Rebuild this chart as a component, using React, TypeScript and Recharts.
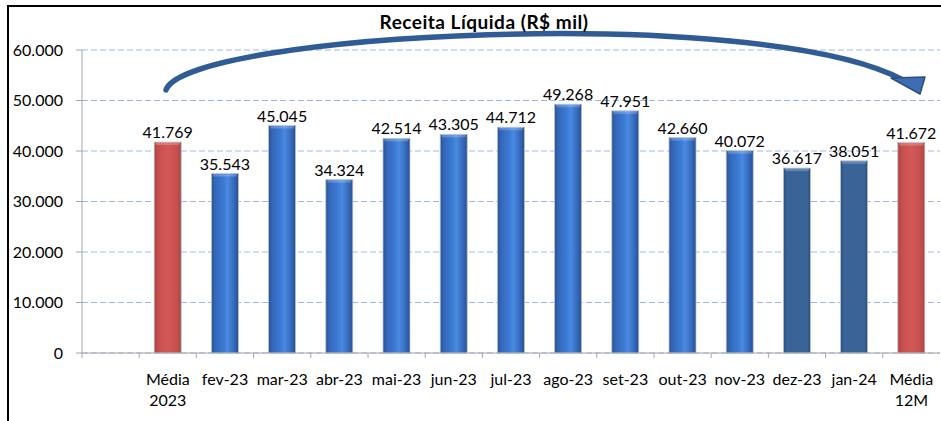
import { BarChart, Bar, XAxis, YAxis, CartesianGrid, Cell, LabelList } from "recharts";

// categories (first slot is intentionally empty, like the original sheet)
const categories = [
  "",
  "Média\n2023",
  "fev-23",
  "mar-23",
  "abr-23",
  "mai-23",
  "jun-23",
  "jul-23",
  "ago-23",
  "set-23",
  "out-23",
  "nov-23",
  "dez-23",
  "jan-24",
  "Média\n12M",
];

// Receita líquida, R$ mil
const receita = [
  null, 41769, 35543, 45045, 34324, 42514, 43305, 44712, 49268, 47951, 42660, 40072, 36617, 38051, 41672,
];

const yTicks = [0, 10000, 20000, 30000, 40000, 50000, 60000];

const darkMonths = ["dez-23", "jan-24"];

const W = 941;
const H = 421;
const PLOT_LEFT = 82;
const PLOT_RIGHT = 1;
const BAND = (W - PLOT_LEFT - PLOT_RIGHT) / categories.length;

const fmt = (v: number | null | undefined) => {
  if (v === null || v === undefined) return "";
  return String(Math.round(v)).replace(/\B(?=(\d{3})+(?!\d))/g, ".");
};

const fillFor = (name: string) => {
  if (name.startsWith("Média")) return "url(#gRed)";
  if (darkMonths.includes(name)) return "url(#gDark)";
  return "url(#gBlue)";
};

const data = categories.map((name, i) => ({ name, value: receita[i] }));

const XTick = (props: any) => {
  const { x, y, payload } = props;
  const lines = String(payload.value).split("\n");
  const bx = x - BAND / 2;
  return (
    <g>
      <line x1={bx} x2={bx} y1={y} y2={y + 5} stroke="#A6A6A6" />
      {lines[0] !== "" && (
        <text x={x} y={y + 32} textAnchor="middle" fill="#000" fontSize={16}>
          {lines.map((l, i) => (
            <tspan key={i} x={x} dy={i === 0 ? 0 : 21}>
              {l}
            </tspan>
          ))}
        </text>
      )}
    </g>
  );
};

const BarShape = (props: any) => {
  const { x, y, width, height, fill } = props;
  if (!height || height <= 0) return null;
  return (
    <g>
      <rect x={x} y={y} width={width} height={height} fill={fill} stroke="#B9C2CE" strokeWidth={0.8} />
      <rect x={x + 1.5} y={y} width={width - 3} height={3} fill="#fff" opacity={0.22} />
    </g>
  );
};

export default function App() {
  return (
    <div
      style={{
        position: "absolute",
        left: 0,
        top: 0,
        width: W,
        height: H,
        overflow: "hidden",
        background: "#fff",
        fontFamily: "Lato, 'Open Sans', sans-serif",
      }}
    >
      <div
        style={{
          position: "absolute",
          left: 7,
          top: 5,
          width: 980,
          height: 460,
          border: "2px solid #000",
          boxSizing: "border-box",
        }}
      />
      <div style={{ position: "absolute", left: 0, top: 0 }}>
        <BarChart
          width={W}
          height={H}
          data={data}
          margin={{ top: 50, right: PLOT_RIGHT, bottom: 38, left: 0 }}
          barSize={27}
        >
          <defs>
            <linearGradient id="gBlue" x1="0" y1="0" x2="1" y2="0">
              <stop offset="0%" stopColor="#2A5397" />
              <stop offset="15%" stopColor="#3468BA" />
              <stop offset="45%" stopColor="#3C7BD5" />
              <stop offset="60%" stopColor="#4A8AE0" />
              <stop offset="85%" stopColor="#3468BA" />
              <stop offset="100%" stopColor="#284F8E" />
            </linearGradient>
            <linearGradient id="gDark" x1="0" y1="0" x2="1" y2="0">
              <stop offset="0%" stopColor="#2C4E7C" />
              <stop offset="12%" stopColor="#3A6398" />
              <stop offset="88%" stopColor="#3A6398" />
              <stop offset="100%" stopColor="#2C4E7C" />
            </linearGradient>
            <linearGradient id="gRed" x1="0" y1="0" x2="1" y2="0">
              <stop offset="0%" stopColor="#A64341" />
              <stop offset="15%" stopColor="#C64F4D" />
              <stop offset="50%" stopColor="#D35957" />
              <stop offset="85%" stopColor="#C64F4D" />
              <stop offset="100%" stopColor="#A64341" />
            </linearGradient>
          </defs>
          <CartesianGrid vertical={false} stroke="#9DB8E8" strokeDasharray="6 3" />
          <XAxis
            dataKey="name"
            interval={0}
            height={30}
            tickLine={false}
            tickSize={0}
            tickMargin={0}
            tick={<XTick />}
            axisLine={{ stroke: "#A6A6A6" }}
          />
          <YAxis
            width={PLOT_LEFT}
            domain={[0, 60000]}
            ticks={yTicks}
            tickFormatter={(v: number) => fmt(v)}
            tick={{ fill: "#000", fontSize: 16 }}
            tickSize={6}
            tickMargin={13}
            tickLine={{ stroke: "#A6A6A6" }}
            axisLine={{ stroke: "#A6A6A6" }}
          />
          <Bar dataKey="value" isAnimationActive={false} shape={<BarShape />}>
            {data.map((d, i) => (
              <Cell key={i} fill={fillFor(d.name)} />
            ))}
            <LabelList
              dataKey="value"
              position="top"
              offset={4}
              fill="#000"
              fontSize={16}
              formatter={(v: any) => fmt(v)}
            />
          </Bar>
        </BarChart>
      </div>
      <svg
        width={W}
        height={H}
        style={{ position: "absolute", left: 0, top: 0, pointerEvents: "none" }}
      >
        <path
          d="M166,90 C185,33 760,3 903,80"
          fill="none"
          stroke="#2F5C94"
          strokeWidth={5.5}
          strokeLinecap="round"
        />
        <polygon points="891,78 925,77 920,94" fill="#3E6DB4" stroke="#2A4F80" strokeWidth={1.5} strokeLinejoin="round" />
        <text x={484} y={29} textAnchor="middle" fontSize={19} fontWeight="bold" letterSpacing={0.5} fill="#000">
          Receita Líquida (R$ mil)
        </text>
      </svg>
    </div>
  );
}
